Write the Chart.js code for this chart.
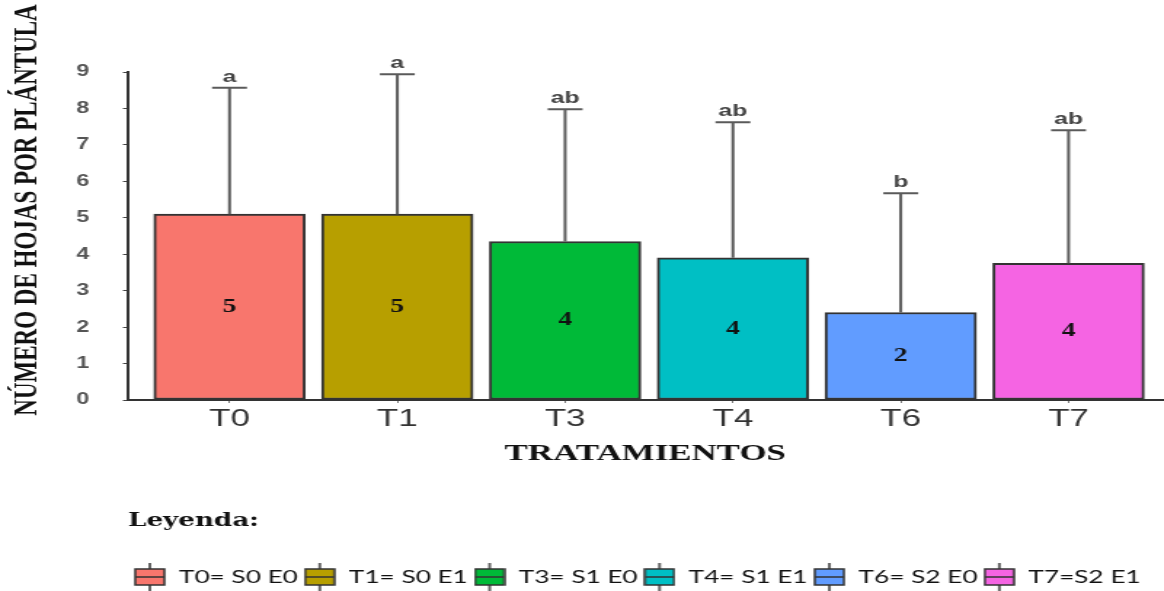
<!DOCTYPE html>
<html>
<head>
<meta charset="utf-8">
<script src="https://cdn.jsdelivr.net/npm/chart.js@4.4.1/dist/chart.umd.min.js"></script>
<style>
  html, body { margin: 0; padding: 0; background: #fff; }
  /* the drawing surface is 800 px wide and shown stretched to 1164 px */
  #chart { display: block; width: 1164px !important; height: 591px !important; background: #fff; }
</style>
</head>
<body>
<canvas id="chart" width="800" height="591" style="width:1164px;height:591px;"></canvas>
<script>
// Treatments and their mean number of leaves per seedling
const categories = ['T0', 'T1', 'T3', 'T4', 'T6', 'T7'];
const means = [5.1, 5.1, 4.35, 3.9, 2.4, 3.75];
// upper error (standard deviation) above each mean
const errors = [3.47, 3.84, 3.63, 3.72, 3.27, 3.65];
// significance groups printed above the error bars
const groups = ['a', 'a', 'ab', 'ab', 'b', 'ab'];
const legendTexts = ['T0= S0 E0', 'T1= S0 E1', 'T3= S1 E0', 'T4= S1 E1', 'T6= S2 E0', 'T7=S2 E1'];
const colors = ['#F8766D', '#B79F00', '#00BA38', '#00BFC4', '#619CFF', '#F564E3'];
const yTickValues = [0, 1, 2, 3, 4, 5, 6, 7, 8, 9];
const yTitle = 'NÚMERO DE HOJAS POR PLÁNTULA';
const xTitle = 'TRATAMIENTOS';
const legendTitle = 'Leyenda:';

Chart.defaults.font.family = '"Liberation Sans", Arial, sans-serif';

// boxplot-style legend keys
function makeKey(color) {
  const c = document.createElement('canvas');
  c.width = 22; c.height = 28;
  const g = c.getContext('2d');
  g.strokeStyle = '#333';
  g.lineWidth = 1.5;
  g.beginPath();
  g.moveTo(11, 0); g.lineTo(11, 6);
  g.moveTo(11, 22); g.lineTo(11, 28);
  g.stroke();
  g.fillStyle = color;
  g.fillRect(1, 6, 20, 16);
  g.strokeRect(1, 6, 20, 16);
  g.beginPath();
  g.moveTo(1, 14); g.lineTo(21, 14);
  g.stroke();
  return c;
}
const keys = colors.map(makeKey);

// error bars, group letters and value labels
const barAnnotations = {
  id: 'barAnnotations',
  afterDatasetsDraw(chart) {
    const { ctx } = chart;
    const y = chart.scales.y;
    const meta = chart.getDatasetMeta(0);
    ctx.save();
    meta.data.forEach((bar, i) => {
      const x = bar.x;
      const top = y.getPixelForValue(means[i] + errors[i]);
      ctx.strokeStyle = '#5a5a5a';
      ctx.lineWidth = 2;
      ctx.beginPath();
      ctx.moveTo(x, bar.y);
      ctx.lineTo(x, top);
      ctx.moveTo(x - 12, top);
      ctx.lineTo(x + 12, top);
      ctx.stroke();

      ctx.fillStyle = '#444';
      ctx.font = 'bold 17px "Liberation Sans", Arial, sans-serif';
      ctx.textAlign = 'center';
      ctx.textBaseline = 'alphabetic';
      ctx.fillText(groups[i], x, top - 6);

      ctx.fillStyle = '#111';
      ctx.font = 'bold 19px "Liberation Serif", serif';
      ctx.textBaseline = 'middle';
      ctx.fillText(String(Math.round(means[i])), x, (bar.y + bar.base) / 2);
    });
    ctx.restore();
  }
};

// vertical axis title
const yAxisTitle = {
  id: 'yAxisTitle',
  afterDraw(chart) {
    const ctx = chart.ctx;
    ctx.save();
    ctx.translate(19, 210);
    ctx.rotate(-Math.PI / 2);
    ctx.font = 'bold 23px "Liberation Serif", serif';
    ctx.fillStyle = '#111';
    ctx.textAlign = 'center';
    ctx.textBaseline = 'middle';
    ctx.fillText(yTitle, 0, 0);
    ctx.restore();
  }
};

new Chart(document.getElementById('chart'), {
  type: 'bar',
  data: {
    datasets: [{
      data: means.map((m, i) => ({ x: i, y: m })),
      backgroundColor: colors,
      borderColor: '#333',
      borderWidth: 2,
      borderSkipped: false,
      barThickness: 104
    }]
  },
  options: {
    responsive: false,
    animation: false,
    events: [],
    layout: { padding: { top: 72, right: 1, bottom: -5, left: 0 } },
    plugins: {
      tooltip: { enabled: false },
      legend: {
        position: 'bottom',
        align: 'start',
        fullSize: false,
        onClick: null,
        title: {
          display: true,
          text: legendTitle,
          position: 'start',
          color: '#111',
          font: { family: '"DejaVu Serif", serif', size: 18, weight: 'bold' },
          padding: { top: 0, bottom: 30.4 }
        },
        labels: {
          usePointStyle: true,
          pointStyleWidth: 22,
          padding: 4,
          color: '#1a1a1a',
          font: { family: 'Lato, sans-serif', size: 18 },
          generateLabels: () => legendTexts.map((t, i) => ({
            text: t,
            fillStyle: colors[i],
            strokeStyle: '#333',
            lineWidth: 0,
            pointStyle: keys[i],
            hidden: false,
            index: i,
            datasetIndex: 0
          }))
        }
      }
    },
    scales: {
      x: {
        type: 'linear',
        min: -0.605,
        max: 5.56,
        offset: false,
        afterBuildTicks: s => { s.ticks = categories.map((c, i) => ({ value: i })); },
        grid: { drawOnChartArea: false, offset: false, tickLength: 3, color: '#777' },
        border: { color: '#333', width: 2 },
        ticks: {
          autoSkip: false,
          maxRotation: 0,
          padding: 2,
          color: '#333',
          font: { size: 24 },
          callback: v => categories[v]
        },
        title: {
          display: true,
          text: xTitle,
          color: '#111',
          font: { family: '"Liberation Serif", serif', size: 24, weight: 'bold' },
          padding: { top: 3.8, bottom: 43.6 }
        }
      },
      y: {
        min: 0,
        max: 9,
        afterFit: s => { s.width = 88; },
        afterBuildTicks: s => { s.ticks = yTickValues.map(v => ({ value: v })); },
        grid: { drawOnChartArea: false, tickLength: 3.5, color: '#444' },
        border: { color: '#333', width: 2 },
        ticks: {
          padding: 23,
          color: '#555',
          font: { size: 16, weight: 'bold' }
        }
      }
    }
  },
  plugins: [barAnnotations, yAxisTitle]
});
</script>
</body>
</html>
